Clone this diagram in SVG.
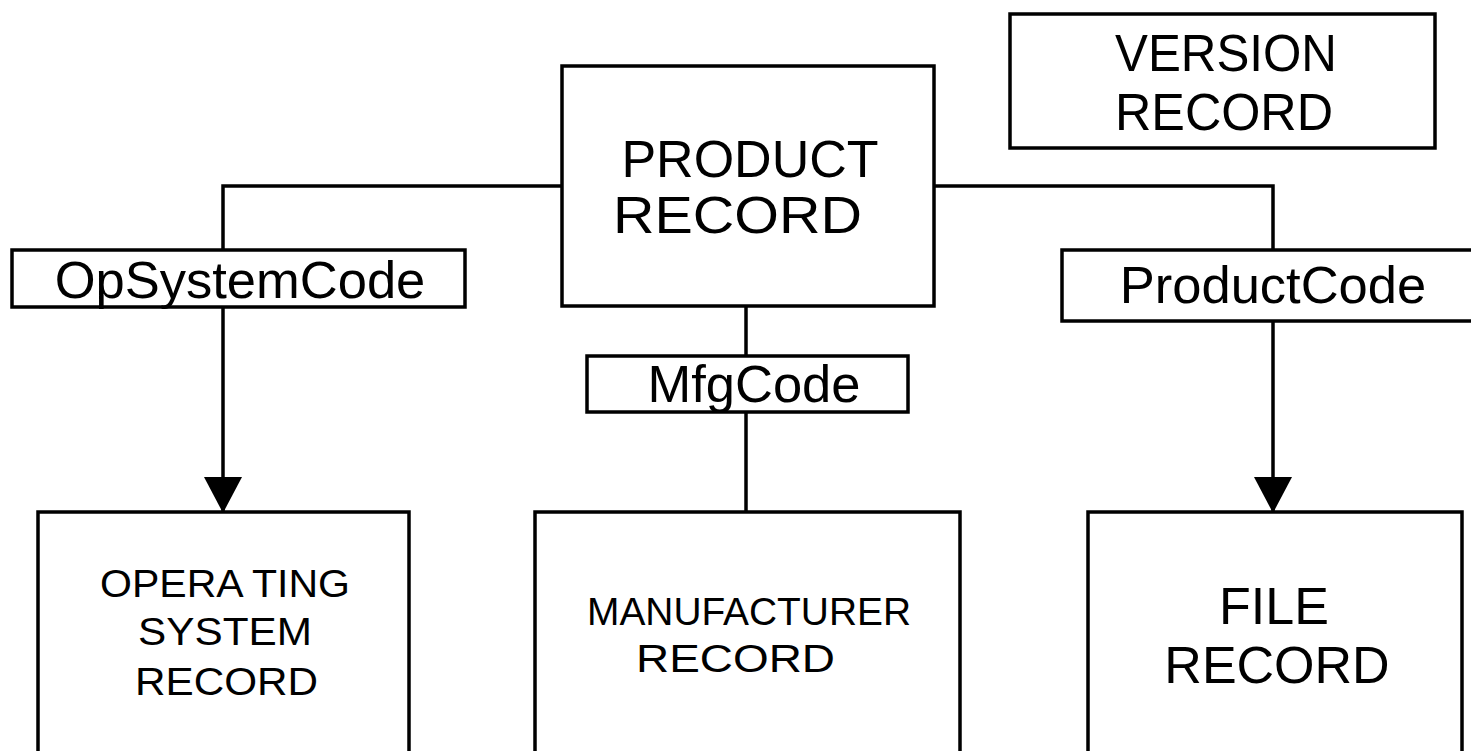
<svg xmlns="http://www.w3.org/2000/svg" width="1471" height="751" viewBox="0 0 1471 751">
<style>
.box{fill:#fff;stroke:#000;stroke-width:3.5}
.ln{fill:none;stroke:#000;stroke-width:3.5}
text{font-family:"Liberation Sans",Arial,sans-serif;fill:#000;text-anchor:middle}
.big{font-size:52px}
.code{font-size:52.5px}
.mid{font-size:38.5px}
</style>
<defs>
<marker id="arr" markerUnits="userSpaceOnUse" markerWidth="36" markerHeight="38" viewBox="0 0 36 38" refX="35" refY="19" orient="auto">
<path d="M0,0 L36,19 L0,38 z" fill="#000"/>
</marker>
</defs>
<g id="connectors">
<path class="ln" d="M562,186 H223 V250"/>
<path class="ln" d="M223,307 V512" marker-end="url(#arr)"/>
<path class="ln" d="M746,306 V356"/>
<path class="ln" d="M746,412 V512"/>
<path class="ln" d="M933,186 H1273 V250"/>
<path class="ln" d="M1273,321 V512" marker-end="url(#arr)"/>
</g>
<g id="product">
<rect class="box" x="562" y="66" width="372" height="240"/>
<text class="big" x="750" y="177">PRODUCT</text>
<text class="big" x="737.5" y="233" textLength="249" lengthAdjust="spacingAndGlyphs">RECORD</text>
</g>
<g id="version">
<rect class="box" x="1010" y="14" width="425" height="134"/>
<text class="big" x="1226" y="71" textLength="222" lengthAdjust="spacingAndGlyphs">VERSION</text>
<text class="big" x="1224" y="130" textLength="218" lengthAdjust="spacingAndGlyphs">RECORD</text>
</g>
<g id="opsystemcode">
<rect class="box" x="12" y="250" width="453" height="57"/>
<text class="code" x="240" y="298">OpSystemCode</text>
</g>
<g id="mfgcode">
<rect class="box" x="587" y="356" width="321" height="56"/>
<text class="code" x="754" y="402">MfgCode</text>
</g>
<g id="productcode">
<rect class="box" x="1062" y="250" width="425" height="71"/>
<text class="code" x="1273" y="303">ProductCode</text>
</g>
<g id="opsystem">
<rect class="box" x="38" y="512" width="371" height="250"/>
<text class="mid" x="225" y="597" textLength="250" lengthAdjust="spacingAndGlyphs">OPERA TING</text>
<text class="mid" x="225" y="645" textLength="174" lengthAdjust="spacingAndGlyphs">SYSTEM</text>
<text class="mid" x="226.5" y="695" textLength="183" lengthAdjust="spacingAndGlyphs">RECORD</text>
</g>
<g id="manufacturer">
<rect class="box" x="535" y="512" width="425" height="250"/>
<text class="mid" x="749" y="625" textLength="324" lengthAdjust="spacingAndGlyphs">MANUFACTURER</text>
<text class="mid" x="735.5" y="672" textLength="199" lengthAdjust="spacingAndGlyphs">RECORD</text>
</g>
<g id="file">
<rect class="box" x="1088" y="512" width="374" height="250"/>
<text class="big" x="1274" y="624">FILE</text>
<text class="big" x="1277" y="683">RECORD</text>
</g>
</svg>
